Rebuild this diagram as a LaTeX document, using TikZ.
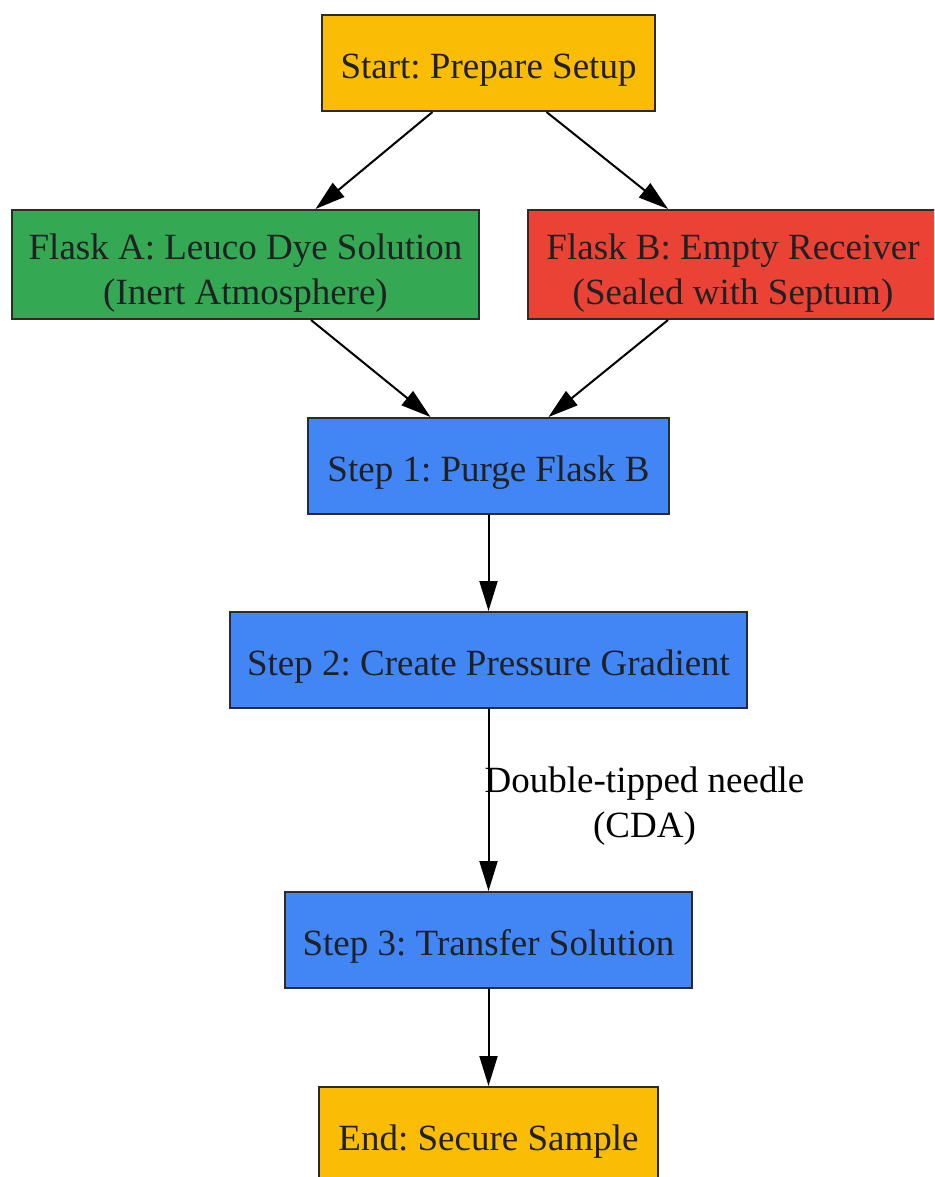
\documentclass[tikz,border=0pt]{standalone}
\usepackage{fontspec}
\setmainfont{Liberation Serif}
\usepackage{xcolor}
\usetikzlibrary{calc,arrows.meta}
\frenchspacing

\definecolor{startyellow}{HTML}{FBBC05}
\definecolor{flaskgreen}{HTML}{34A853}
\definecolor{flaskred}{HTML}{EA4335}
\definecolor{stepblue}{HTML}{4285F4}
\definecolor{boxline}{HTML}{2B2B2B}
\definecolor{textgray}{HTML}{202124}

\begin{document}
\begin{tikzpicture}
[x=1pt,y=-1pt,>={Triangle[length=30pt,width=18pt]},
box/.style={draw=boxline,line width=2pt,inner sep=0pt,align=center,text=textgray,font=\fontsize{37}{45}\selectfont,execute at begin node=\rule{0pt}{38pt}},
flow/.style={->,line width=2pt},]

%Page size
\clip (0,0) rectangle (934,1177);

%Main column
\def\mx{488.5}

%Boxes
\node (start) at (\mx,63)[box,fill=startyellow,minimum width=333pt,minimum height=96pt] {Start: Prepare Setup};
\node (flaskA) at (245.5,264.5)[box,fill=flaskgreen,minimum width=467pt,minimum height=109pt] {\rule{0pt}{42pt}Flask A: Leuco Dye Solution\\(Inert Atmosphere)};
\node (flaskB) at (733,264.5)[box,fill=flaskred,minimum width=410pt,minimum height=109pt] {\rule{0pt}{42pt}Flask B: Empty Receiver\\(Sealed with Septum)};
\node (step1) at (\mx,466)[box,fill=stepblue,minimum width=361pt,minimum height=96pt] {Step 1: Purge Flask B};
\node (step2) at (\mx,660)[box,fill=stepblue,minimum width=517pt,minimum height=96pt] {Step 2: Create Pressure Gradient};
\node (step3) at (\mx,940)[box,fill=stepblue,minimum width=407pt,minimum height=96pt] {Step 3: Transfer Solution};
\node (end) at (\mx,1135)[box,fill=startyellow,minimum width=339pt,minimum height=96pt] {End: Secure Sample};

%Arrows
\draw[flow] ([xshift=-56pt]start.south) -- ([xshift=70pt]flaskA.north);
\draw[flow] ([xshift=58pt]start.south) -- ([xshift=-65pt]flaskB.north);
\draw[flow] ([xshift=65.5pt]flaskA.south) -- ([xshift=-58pt]step1.north);
\draw[flow] ([xshift=-65pt]flaskB.south) -- ([xshift=60pt]step1.north);
\draw[flow] (step1) -- (step2);
\draw[flow] (step2) -- (step3);
\draw[flow] (step3) -- (end);

%Needle label
\node (needle) at ($(step2.south)!0.5!(step3.north)+(156,6)$)[align=center,inner sep=0pt,font=\fontsize{37}{45}\selectfont] {Double-tipped needle\\(CDA)};

\end{tikzpicture}
\end{document}
